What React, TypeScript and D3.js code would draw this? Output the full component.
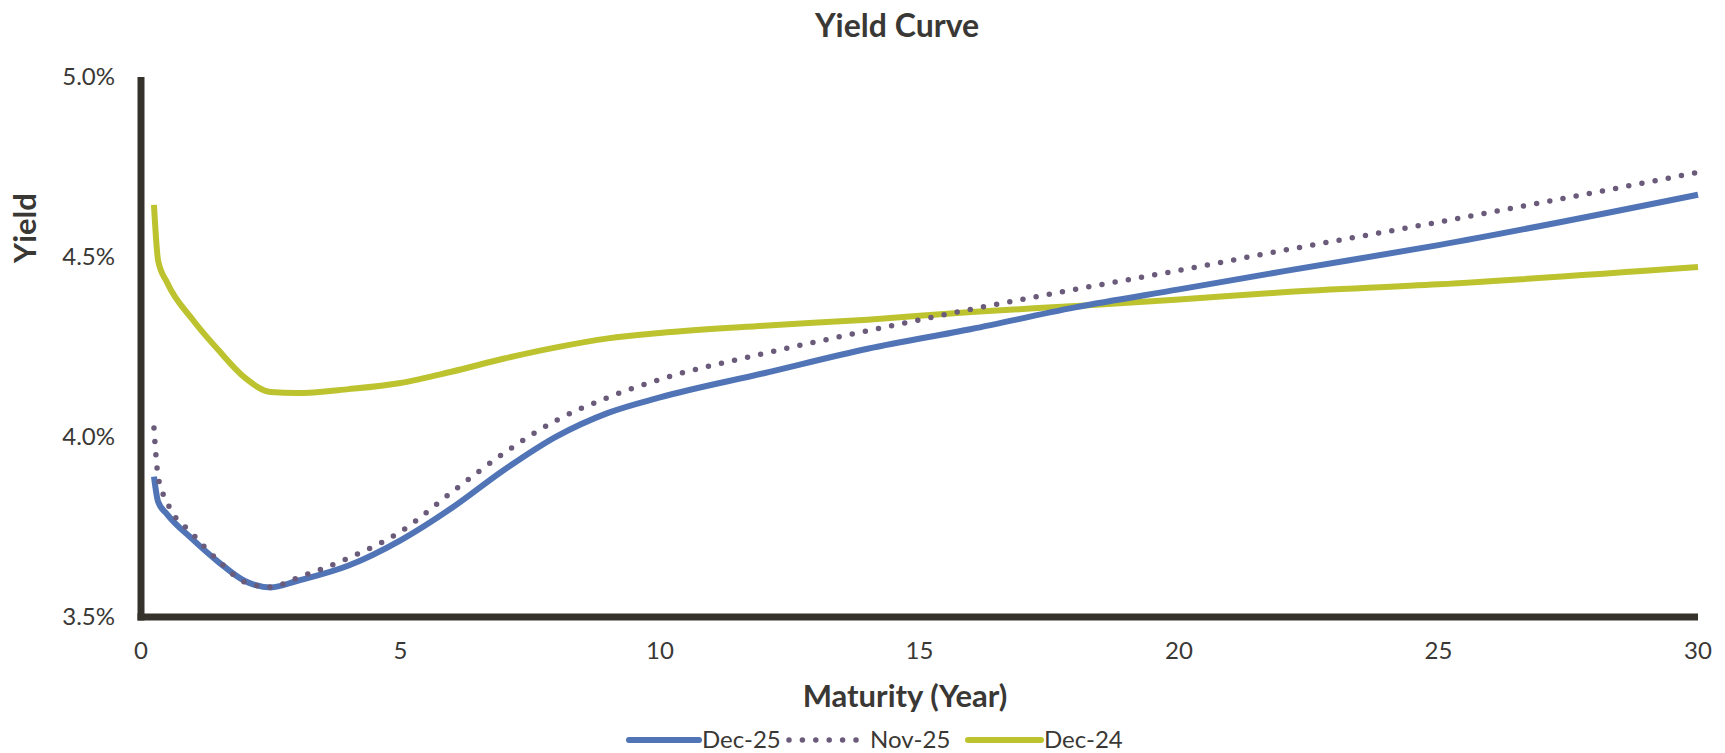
import { useRef, useEffect } from 'react';
import * as d3 from 'd3';

const WIDTH = 1725;
const HEIGHT = 753;
const MARGIN = { top: 77, right: 27, bottom: 136, left: 141 };

// Maturities in years, shared by all three curves.
const MATURITIES = [0.25, 0.33, 0.5, 1, 1.5, 2, 2.5, 3, 4, 5, 6, 7, 8, 9, 10, 12, 14, 16, 18, 20, 22, 25, 30];

// Yields in percent.
const DEC_25 = [3.89, 3.82, 3.786, 3.715, 3.652, 3.6, 3.582, 3.6, 3.643, 3.713, 3.804, 3.909, 4.001, 4.067, 4.11, 4.177, 4.245, 4.3, 4.36, 4.41, 4.46, 4.533, 4.673];
const NOV_25 = [4.025, 3.89, 3.82, 3.73, 3.655, 3.597, 3.583, 3.608, 3.664, 3.737, 3.848, 3.956, 4.046, 4.11, 4.16, 4.232, 4.295, 4.355, 4.41, 4.463, 4.518, 4.597, 4.735];
const DEC_24 = [4.645, 4.49, 4.43, 4.325, 4.24, 4.165, 4.125, 4.122, 4.133, 4.15, 4.182, 4.218, 4.249, 4.274, 4.289, 4.309, 4.326, 4.347, 4.364, 4.382, 4.402, 4.424, 4.472];

const Y_TICKS = [3.5, 4.0, 4.5, 5.0];
const X_TICKS = [0, 5, 10, 15, 20, 25, 30];

const BLUE = '#5074b6';
const PURPLE = '#6b5b7b';
const GREEN = '#bcc32f';
const AXIS = '#35322c';
const TEXT = '#3a3835';
const FONT = 'Lato, "Noto Sans", sans-serif';

type Pt = { m: number; y: number };

export default function App() {
  const svgRef = useRef<SVGSVGElement>(null);

  useEffect(() => {
    if (!svgRef.current) return;
    const svg = d3.select(svgRef.current);
    svg.selectAll('*').remove();

    const x = d3.scaleLinear().domain([0, 30]).range([MARGIN.left, WIDTH - MARGIN.right]);
    const y = d3.scaleLinear().domain([3.5, 5.0]).range([HEIGHT - MARGIN.bottom, MARGIN.top]);

    // ── Title ──
    svg.append('text')
      .attr('x', 897).attr('y', 37)
      .attr('text-anchor', 'middle')
      .attr('font-family', FONT).attr('font-weight', 700).attr('font-size', '32px')
      .attr('fill', TEXT)
      .text('Yield Curve');

    // ── Curves ──
    const line = d3.line<Pt>()
      .x((d) => x(d.m))
      .y((d) => y(d.y))
      .curve(d3.curveMonotoneX);

    const series = [
      { vals: DEC_24, color: GREEN, dash: null as string | null, width: 6 },
      { vals: NOV_25, color: PURPLE, dash: '0,13.4', width: 5.5 },
      { vals: DEC_25, color: BLUE, dash: null as string | null, width: 6 },
    ];
    // draw order: green, blue, dotted on top
    [series[0], series[2], series[1]].forEach((s) => {
      const pts = MATURITIES.map((m, i) => ({ m, y: s.vals[i] }));
      const p = svg.append('path')
        .datum(pts)
        .attr('fill', 'none')
        .attr('stroke', s.color)
        .attr('stroke-width', s.width)
        .attr('stroke-linejoin', 'round')
        .attr('stroke-linecap', s.dash ? 'round' : 'butt')
        .attr('d', line);
      if (s.dash) p.attr('stroke-dasharray', s.dash);
    });

    // ── Axes ──
    svg.append('line')
      .attr('x1', x(0)).attr('x2', x(0))
      .attr('y1', y(5.0)).attr('y2', y(3.5) + 3.5)
      .attr('stroke', AXIS).attr('stroke-width', 7);
    svg.append('line')
      .attr('x1', x(0) - 3.5).attr('x2', x(30))
      .attr('y1', y(3.5)).attr('y2', y(3.5))
      .attr('stroke', AXIS).attr('stroke-width', 7);

    svg.append('g')
      .selectAll('text')
      .data(Y_TICKS)
      .join('text')
      .attr('x', 115)
      .attr('y', (d) => y(d))
      .attr('dy', '0.35em')
      .attr('text-anchor', 'end')
      .attr('font-family', FONT).attr('font-size', '24px')
      .attr('fill', TEXT)
      .text((d) => d3.format('.1f')(d) + '%');

    svg.append('g')
      .selectAll('text')
      .data(X_TICKS)
      .join('text')
      .attr('x', (d) => x(d))
      .attr('y', 651)
      .attr('dy', '0.35em')
      .attr('text-anchor', 'middle')
      .attr('font-family', FONT).attr('font-size', '24px')
      .attr('fill', TEXT)
      .text((d) => String(d));

    // Axis titles
    svg.append('text')
      .attr('transform', 'translate(25,228) rotate(-90)')
      .attr('text-anchor', 'middle')
      .attr('dy', '0.35em')
      .attr('font-family', FONT).attr('font-weight', 700).attr('font-size', '31px')
      .attr('fill', TEXT)
      .text('Yield');

    svg.append('text')
      .attr('x', 905).attr('y', 696)
      .attr('dy', '0.35em')
      .attr('text-anchor', 'middle')
      .attr('font-family', FONT).attr('font-weight', 700).attr('font-size', '31px')
      .attr('fill', TEXT)
      .text('Maturity (Year)');

    // ── Legend ──
    const ly = 740;
    const legend = [
      { label: 'Dec-25', color: BLUE, dash: null as string | null, x0: 629, x1: 699, tx: 702 },
      { label: 'Nov-25', color: PURPLE, dash: '0,13.4', x0: 789, x1: 856, tx: 870 },
      { label: 'Dec-24', color: GREEN, dash: null as string | null, x0: 968, x1: 1041, tx: 1044 },
    ];
    legend.forEach((l) => {
      const ln = svg.append('line')
        .attr('x1', l.x0).attr('x2', l.x1)
        .attr('y1', ly).attr('y2', ly)
        .attr('stroke', l.color)
        .attr('stroke-width', l.dash ? 5.5 : 6)
        .attr('stroke-linecap', 'round');
      if (l.dash) ln.attr('stroke-dasharray', l.dash);
      svg.append('text')
        .attr('x', l.tx).attr('y', ly)
        .attr('dy', '0.35em')
        .attr('font-family', FONT).attr('font-size', '24px')
        .attr('fill', TEXT)
        .text(l.label);
    });
  }, []);

  return (
    <svg
      ref={svgRef}
      width={WIDTH}
      height={HEIGHT}
      style={{ position: 'absolute', left: 0, top: 0, background: '#fff', display: 'block' }}
    />
  );
}
